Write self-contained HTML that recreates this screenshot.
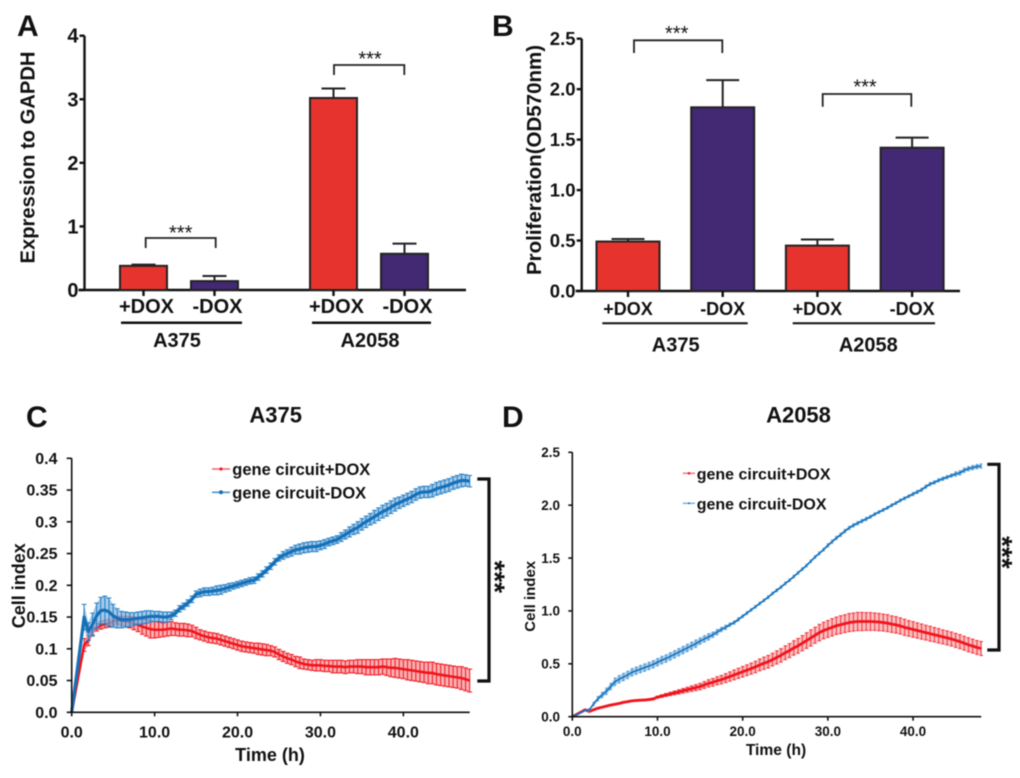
<!DOCTYPE html>
<html lang="en">
<head>
<meta charset="utf-8">
<title>Gene circuit expression, proliferation and cell index</title>
<style>
html,body{margin:0;padding:0;background:#fff;}
body{width:1020px;height:778px;overflow:hidden;}
svg{display:block;filter:blur(.4px);}
text{font-family:"Liberation Sans",Arial,sans-serif;font-weight:bold;fill:#111;}
</style>
</head>
<body>
<svg id="figure" xmlns="http://www.w3.org/2000/svg" width="1020" height="778" viewBox="0 0 1020 778">
  <rect width="1020" height="778" fill="#fff"/>
  <text x="17" y="36" font-size="30">A</text>
  <text x="492" y="36" font-size="30">B</text>
  <text x="26" y="427" font-size="30">C</text>
  <text x="502" y="427" font-size="30">D</text>

  <text transform="translate(34.5,157.5) rotate(-90)" text-anchor="middle" font-size="20.2">Expression to GAPDH</text>
  <text transform="translate(541,160) rotate(-90)" text-anchor="middle" font-size="20.5">Proliferation(OD570nm)</text>

  <g>
    <line x1="121" x2="242" y1="322.7" y2="322.7" stroke="#111" stroke-width="2.5"/>
    <line x1="312" x2="431" y1="322.7" y2="322.7" stroke="#111" stroke-width="2.5"/>
    <text x="177" y="347" text-anchor="middle" font-size="20">A375</text>
    <text x="370" y="347" text-anchor="middle" font-size="20">A2058</text>
    <path d="M145.7 248V238H215.7V248" fill="none" stroke="#222" stroke-width="1.8"/>
    <text x="180.7" y="239.5" text-anchor="middle" font-size="20" style="font-weight:normal">***</text>
    <path d="M334 75V65H404.3V75" fill="none" stroke="#222" stroke-width="1.8"/>
    <text x="370" y="65.5" text-anchor="middle" font-size="20" style="font-weight:normal">***</text>
  </g>

  <g>
    <line x1="602.3" x2="747.7" y1="323.3" y2="323.3" stroke="#111" stroke-width="2"/>
    <line x1="792.7" x2="935" y1="323.3" y2="323.3" stroke="#111" stroke-width="2"/>
    <text x="675.7" y="351.7" text-anchor="middle" font-size="20">A375</text>
    <text x="868.3" y="351.7" text-anchor="middle" font-size="20">A2058</text>
    <path d="M634 53V40.3H722.3V53" fill="none" stroke="#222" stroke-width="1.8"/>
    <text x="676.7" y="40" text-anchor="middle" font-size="20" style="font-weight:normal">***</text>
    <path d="M822.7 106.7V94H911.3V106.7" fill="none" stroke="#222" stroke-width="1.8"/>
    <text x="865" y="93.5" text-anchor="middle" font-size="20" style="font-weight:normal">***</text>
  </g>

  <text x="275.7" y="422.7" text-anchor="middle" font-size="22">A375</text>
  <text x="798.5" y="422.7" text-anchor="middle" font-size="22">A2058</text>
  <text transform="translate(25,585.7) rotate(-90)" text-anchor="middle" font-size="18">Cell index</text>
  <text transform="translate(535,596.3) rotate(-90)" text-anchor="middle" font-size="15">Cell index</text>
  <text x="270" y="761" text-anchor="middle" font-size="18">Time (h)</text>
  <text x="776" y="755" text-anchor="middle" font-size="15.6">Time (h)</text>

  <g id="chart-a"></g>
  <g id="chart-b"></g>
  <g id="chart-c"></g>
  <g id="chart-d"></g>

  <g>
    <g>
      <line x1="212" x2="230" y1="469" y2="469" stroke="#f4656a" stroke-width="1.6"/>
      <circle cx="221" cy="469" r="1.6" fill="#ee1c25"/>
      <text x="232.3" y="475" font-size="16.5">gene circuit+DOX</text>
    </g>
    <g>
      <line x1="212" x2="230" y1="492.3" y2="492.3" stroke="#4a94d0" stroke-width="1.6"/>
      <circle cx="221" cy="492.3" r="2" fill="#1570b8"/>
      <text x="232.3" y="498.3" font-size="16.5">gene circuit-DOX</text>
    </g>
  </g>
  <g>
    <g>
      <line x1="682.7" x2="695" y1="473.3" y2="473.3" stroke="#f4656a" stroke-width="1.3"/>
      <circle cx="689" cy="473.3" r="1.3" fill="#ee1c25"/>
      <text x="696.7" y="479.3" font-size="16">gene circuit+DOX</text>
    </g>
    <g>
      <line x1="682.7" x2="695" y1="503.3" y2="503.3" stroke="#6aa8dc" stroke-width="1.3"/>
      <circle cx="689" cy="503.3" r="1" fill="#1570b8"/>
      <text x="696.7" y="509.3" font-size="16">gene circuit-DOX</text>
    </g>
  </g>

  <g>
    <path d="M477.3 479H489V681H477.3" fill="none" stroke="#111" stroke-width="3.2"/>
    <text transform="translate(485.5,576.7) rotate(90)" text-anchor="middle" font-size="28" style="font-weight:bold">***</text>
  </g>
  <g>
    <path d="M987.3 464.3H999V650H987.3" fill="none" stroke="#111" stroke-width="3.2"/>
    <text transform="translate(993,552.3) rotate(90)" text-anchor="middle" font-size="28" style="font-weight:bold">***</text>
  </g>
</svg>

<script>
// Panel A data
const expressionCategories = ['+DOX', '-DOX', '+DOX', '-DOX'];
const expressionValues = [0.38, 0.14, 3.02, 0.57];
const expressionErrorTops = [0.40, 0.22, 3.17, 0.73];
const expressionTicks = [0, 1, 2, 3, 4];
const expressionTickLabels = ['0', '1', '2', '3', '4'];

// Panel B data
const proliferationCategories = ['+DOX', '-DOX', '+DOX', '-DOX'];
const proliferationValues = [0.49, 1.82, 0.45, 1.42];
const proliferationErrorTops = [0.515, 2.09, 0.51, 1.52];
const proliferationTicks = [0, 0.5, 1, 1.5, 2, 2.5];
const proliferationTickLabels = ['0.0', '0.5', '1.0', '1.5', '2.0', '2.5'];

// Panels C and D shared sampling times (h)
const hours = [
  0,1.5,2,2.5,3,3.5,4,4.5,
  5,5.5,6,6.5,7,7.5,8,8.5,9,9.5,
  10,10.5,11,11.5,12,12.5,13,13.5,14,14.5,
  15,15.5,16,16.5,17,17.5,18,18.5,19,19.5,
  20,20.5,21,21.5,22,22.5,23,23.5,24,24.5,
  25,25.5,26,26.5,27,27.5,28,28.5,29,29.5,
  30,30.5,31,31.5,32,32.5,33,33.5,34,34.5,
  35,35.5,36,36.5,37,37.5,38,38.5,39,39.5,
  40,40.5,41,41.5,42,42.5,43,43.5,44,44.5,
  45,45.5,46,46.5,47,47.5,48];
const timeTicks = [0, 10, 20, 30, 40];
const timeTickLabels = ['0.0', '10.0', '20.0', '30.0', '40.0'];

// Panel C
const cellTicksC = [0, 0.05, 0.1, 0.15, 0.2, 0.25, 0.3, 0.35, 0.4];
const cellTickLabelsC = ['0.0', '0.05', '0.1', '0.15', '0.2', '0.25', '0.3', '0.35', '0.4'];
const a375PlusDox = [
  0,.106,.113,.128,.134,.137,.139,.140,
  .143,.145,.144,.143,.142,.140,.138,.135,.133,.131,
  .130,.130,.130,.131,.132,.131,.130,.130,.129,.128,
  .125,.122,.120,.118,.117,.116,.114,.112,.110,.108,
  .106,.104,.103,.102,.101,.100,.099,.098,.097,.095,
  .091,.088,.085,.083,.080,.078,.076,.075,.074,.074,
  .074,.073,.073,.072,.072,.072,.071,.072,.072,.072,
  .072,.071,.071,.071,.071,.072,.071,.070,.070,.069,
  .068,.067,.066,.065,.064,.063,.062,.062,.060,.059,
  .058,.057,.056,.055,.054,.052,.050];
const a375PlusDoxError = [
  0,.010,.008,.006,.006,.006,.006,.006,
  .006,.006,.007,.008,.009,.010,.011,.012,.013,.014,
  .013,.012,.011,.011,.011,.010,.010,.010,.010,.009,
  .009,.008,.008,.008,.008,.008,.008,.008,.008,.008,
  .008,.008,.008,.008,.008,.009,.009,.009,.008,.008,
  .008,.008,.008,.008,.008,.009,.008,.008,.008,.009,
  .009,.009,.009,.010,.010,.010,.010,.010,.010,.011,
  .011,.012,.012,.012,.012,.012,.013,.014,.015,.015,
  .015,.016,.016,.016,.016,.016,.017,.017,.017,.017,
  .017,.017,.017,.017,.018,.018,.018];
const a375MinusDox = [
  0,.150,.127,.138,.152,.160,.161,.158,
  .152,.148,.146,.146,.146,.147,.148,.149,.150,.151,
  .151,.151,.150,.150,.152,.156,.163,.167,.172,.178,
  .186,.188,.190,.190,.191,.192,.193,.195,.197,.199,
  .201,.203,.205,.207,.208,.213,.218,.224,.230,.237,
  .243,.247,.250,.253,.256,.257,.259,.260,.261,.261,
  .263,.265,.268,.270,.272,.276,.280,.284,.288,.291,
  .296,.300,.304,.308,.312,.316,.319,.323,.327,.330,
  .333,.336,.339,.343,.346,.347,.347,.349,.352,.354,
  .356,.358,.361,.363,.365,.365,.364];
const a375MinusDoxError = [
  0,.020,.014,.018,.020,.021,.022,.022,
  .018,.015,.013,.012,.011,.010,.010,.010,.010,.009,
  .008,.008,.008,.008,.006,.005,.005,.005,.005,.005,
  .005,.006,.006,.006,.006,.007,.007,.006,.006,.005,
  .005,.005,.005,.005,.005,.005,.005,.005,.005,.005,
  .005,.006,.006,.007,.007,.008,.008,.008,.008,.008,
  .007,.007,.006,.006,.006,.007,.007,.008,.008,.009,
  .009,.009,.009,.010,.010,.010,.010,.010,.010,.009,
  .009,.009,.009,.009,.009,.009,.009,.010,.010,.010,
  .010,.010,.010,.010,.010,.009,.009];

// Panel D
const cellTicksD = [0, 0.5, 1, 1.5, 2, 2.5];
const cellTickLabelsD = ['0.0', '0.5', '1.0', '1.5', '2.0', '2.5'];
const a2058PlusDox = [
  0,.065,.050,.065,.080,.090,.100,.110,
  .118,.125,.135,.142,.150,.153,.156,.158,.162,.168,
  .185,.195,.205,.215,.225,.235,.245,.255,.265,.275,
  .285,.300,.315,.325,.340,.350,.365,.380,.395,.410,
  .425,.440,.455,.470,.490,.505,.520,.540,.560,.580,
  .605,.625,.650,.670,.695,.720,.745,.770,.795,.815,
  .830,.845,.860,.870,.880,.890,.895,.900,.900,.900,
  .900,.898,.895,.890,.885,.875,.868,.858,.845,.835,
  .825,.815,.805,.795,.785,.775,.765,.755,.745,.735,
  .722,.710,.695,.680,.668,.655,.645];
const a2058PlusDoxError = [
  0,.005,.005,.005,.005,.005,.005,.006,
  .006,.006,.006,.006,.006,.006,.006,.007,.007,.007,
  .010,.012,.014,.016,.018,.020,.022,.024,.026,.028,
  .030,.032,.034,.036,.038,.040,.042,.044,.046,.048,
  .050,.050,.052,.054,.056,.058,.060,.060,.062,.064,
  .065,.066,.068,.070,.072,.074,.076,.076,.078,.078,
  .080,.082,.082,.084,.084,.086,.086,.086,.086,.084,
  .084,.082,.082,.080,.080,.078,.078,.076,.076,.074,
  .074,.072,.072,.070,.070,.068,.068,.066,.066,.066,
  .066,.066,.066,.066,.066,.066,.066];
const a2058MinusDox = [
  0,.060,.065,.120,.170,.205,.240,.285,
  .330,.355,.375,.395,.420,.435,.450,.465,.480,.495,
  .515,.535,.550,.570,.590,.610,.630,.650,.670,.690,
  .715,.735,.755,.775,.800,.825,.845,.870,.890,.920,
  .950,.980,1.010,1.040,1.070,1.100,1.130,1.165,1.195,1.225,
  1.260,1.290,1.325,1.360,1.395,1.430,1.470,1.510,1.545,1.580,
  1.620,1.655,1.690,1.720,1.755,1.785,1.810,1.830,1.850,1.870,
  1.890,1.915,1.935,1.955,1.975,2.000,2.020,2.045,2.065,2.085,
  2.105,2.125,2.145,2.175,2.200,2.215,2.235,2.250,2.265,2.280,
  2.295,2.305,2.330,2.345,2.355,2.365,2.370];
const a2058MinusDoxError = [
  0,.005,.010,.015,.020,.025,.030,.030,
  .035,.035,.035,.035,.035,.035,.035,.035,.035,.035,
  .035,.035,.035,.035,.035,.035,.035,.035,.035,.035,
  .030,.030,.030,.025,.025,.020,.020,.015,.015,.015,
  .012,.012,.012,.012,.012,.012,.012,.012,.012,.012,
  .012,.012,.012,.012,.012,.012,.012,.012,.012,.012,
  .015,.015,.015,.015,.015,.015,.015,.015,.015,.015,
  .012,.012,.012,.012,.012,.012,.012,.012,.012,.012,
  .015,.015,.015,.015,.015,.015,.015,.015,.015,.015,
  .020,.020,.020,.020,.020,.020,.020];

const SVG_NS = 'http://www.w3.org/2000/svg';

function make(parent, tag, props, name, label) {
  const el = document.createElementNS(SVG_NS, tag);
  for (const key in props) el.setAttribute(key, props[key]);
  
  
  if (label !== undefined) el.textContent = label;
  parent.appendChild(el);
  return el;
}

function linear(d0, d1, r0, r1) {
  return function (v) { return r0 + (v - d0) * (r1 - r0) / (d1 - d0); };
}

function drawYAxis(g, y, axisX, yTop, yBottom, ticks, labels, tickLen, labelRight, fontSize, axisWidth) {
  make(g, 'line', {x1: axisX, x2: axisX, y1: yTop, y2: yBottom, stroke: '#111', 'stroke-width': axisWidth}, 'y-axis-line');
  ticks.forEach(function (t, i) {
    make(g, 'line', {x1: axisX - tickLen, x2: axisX, y1: y(t), y2: y(t), stroke: '#111', 'stroke-width': axisWidth}, 'y-axis-tick');
    make(g, 'text', {x: labelRight, y: y(t) + fontSize * 0.35, 'text-anchor': 'end', 'font-size': fontSize}, 'y-tick-label', labels[i]);
  });
}

function drawBars(g, opts) {
  const y = opts.y;
  drawYAxis(g, y, opts.axisX, y(opts.ticks[opts.ticks.length - 1]), y(0) + 1, opts.ticks, opts.tickLabels, opts.tickLen, opts.labelRight, opts.tickFont, 2.4);
  make(g, 'line', {x1: opts.axisX - 6, x2: opts.xEnd, y1: y(0), y2: y(0), stroke: '#111', 'stroke-width': 2.4}, 'x-axis-line');
  opts.values.forEach(function (v, i) {
    const cx = opts.x(i);
    const fill = i % 2 === 0 ? '#e6332d' : '#432873';
    make(g, 'line', {x1: cx, x2: cx, y1: y(v), y2: y(opts.errors[i]), stroke: '#222', 'stroke-width': 2}, 'error-bar-stem');
    make(g, 'line', {x1: cx - opts.cap / 2, x2: cx + opts.cap / 2, y1: y(opts.errors[i]), y2: y(opts.errors[i]), stroke: '#222', 'stroke-width': 2}, 'error-bar-cap');
    make(g, 'rect', {x: cx - opts.barW / 2, y: y(v), width: opts.barW, height: y(0) - y(v), fill: fill, stroke: '#222', 'stroke-width': 2}, 'bar-' + opts.panel + '-' + i);
    make(g, 'line', {x1: cx, x2: cx, y1: y(0), y2: y(0) + 6, stroke: '#111', 'stroke-width': 2.4}, 'x-axis-tick');
    make(g, 'text', {x: cx + opts.labelShift, y: opts.labelY, 'text-anchor': 'middle', 'font-size': opts.catFont}, 'x-tick-label', opts.categories[i]);
  });
}

function drawSeries(g, x, y, means, errors, style, name) {
  const group = make(g, 'g', {}, name);
  let upper = '';
  let lower = '';
  means.forEach(function (m, i) {
    upper += x(hours[i]).toFixed(2) + ',' + y(m + errors[i]).toFixed(2) + ' ';
    lower = x(hours[i]).toFixed(2) + ',' + y(m - errors[i]).toFixed(2) + ' ' + lower;
  });
  make(group, 'polygon', {points: upper + lower, fill: style.band, 'fill-opacity': style.bandOpacity}, name + '-error-band');
  means.forEach(function (m, i) {
    const px = x(hours[i]);
    const hi = y(m + errors[i]);
    const lo = y(m - errors[i]);
    make(group, 'path', {
      d: 'M' + (px - style.cap) + ' ' + hi + 'H' + (px + style.cap) + 'M' + px + ' ' + hi + 'V' + lo + 'M' + (px - style.cap) + ' ' + lo + 'H' + (px + style.cap),
      stroke: style.err, 'stroke-width': 1, fill: 'none'
    }, name + '-error-bar');
  });
  let pts = '';
  means.forEach(function (m, i) { pts += x(hours[i]).toFixed(2) + ',' + y(m).toFixed(2) + ' '; });
  make(group, 'polyline', {points: pts, fill: 'none', stroke: style.line, 'stroke-width': style.width, 'stroke-linejoin': 'round'}, name + '-line');
}

function drawTimeAxes(g, x, y, opts) {
  drawYAxis(g, y, opts.axisX, y(opts.ticks[opts.ticks.length - 1]), y(0) + 1, opts.ticks, opts.tickLabels, opts.tickLen, opts.labelRight, opts.tickFont, 1.6);
  make(g, 'line', {x1: opts.axisX - 1, x2: x(48), y1: y(0), y2: y(0), stroke: '#111', 'stroke-width': 1.6}, 'x-axis-line');
  timeTicks.forEach(function (t, i) {
    make(g, 'line', {x1: x(t), x2: x(t), y1: y(0), y2: y(0) + 4, stroke: '#111', 'stroke-width': 1.6}, 'x-axis-tick');
    make(g, 'text', {x: x(t), y: opts.labelY, 'text-anchor': 'middle', 'font-size': opts.tickFont}, 'x-tick-label', timeTickLabels[i]);
  });
}

// Panel A
const yA = linear(0, 4, 290, 35.7);
drawBars(document.getElementById('chart-a'), {
  panel: 'a', y: yA, x: function (i) { return 143.5 + 71 * i + (i >= 2 ? 48 : 0); },
  values: expressionValues, errors: expressionErrorTops, categories: expressionCategories,
  ticks: expressionTicks, tickLabels: expressionTickLabels,
  axisX: 84.5, xEnd: 466, tickLen: 5, labelRight: 78.5, tickFont: 20,
  barW: 47, cap: 24, catFont: 20, labelY: 313, labelShift: 3
});

// Panel B
const yB = linear(0, 2.5, 291, 38.7);
drawBars(document.getElementById('chart-b'), {
  panel: 'b', y: yB, x: function (i) { return 628 + 94.7 * i; },
  values: proliferationValues, errors: proliferationErrorTops, categories: proliferationCategories,
  ticks: proliferationTicks, tickLabels: proliferationTickLabels,
  axisX: 581.7, xEnd: 960, tickLen: 5, labelRight: 575.5, tickFont: 18.5,
  barW: 63, cap: 33, catFont: 18, labelY: 315, labelShift: 0
});

// Panel C
const xC = linear(0, 48, 71.7, 469.7);
const yC = linear(0, 0.4, 712.3, 458.3);
const gC = document.getElementById('chart-c');
drawSeries(gC, xC, yC, a375PlusDox, a375PlusDoxError, {band: '#f78f93', bandOpacity: 0.7, err: '#f0141c', line: '#f0141c', width: 2.6, cap: 2.4}, 'a375-plus-dox-series');
drawSeries(gC, xC, yC, a375MinusDox, a375MinusDoxError, {band: '#7fb3df', bandOpacity: 0.7, err: '#1f7cc4', line: '#1570b8', width: 3.2, cap: 2.4}, 'a375-minus-dox-series');
drawTimeAxes(gC, xC, yC, {axisX: 71.7, ticks: cellTicksC, tickLabels: cellTickLabelsC, tickLen: 5, labelRight: 57.5, tickFont: 16, labelY: 737.3});

// Panel D
const xD = linear(0, 48, 572.3, 981.2);
const yD = linear(0, 2.5, 716.7, 452.3);
const gD = document.getElementById('chart-d');
drawSeries(gD, xD, yD, a2058PlusDox, a2058PlusDoxError, {band: '#f8a4a7', bandOpacity: 0.7, err: '#f0343b', line: '#f0141c', width: 2.8, cap: 1.8}, 'a2058-plus-dox-series');
drawSeries(gD, xD, yD, a2058MinusDox, a2058MinusDoxError, {band: '#9cc5e8', bandOpacity: 0.8, err: '#4a97d6', line: '#1570b8', width: 1.6, cap: 1.2}, 'a2058-minus-dox-series');
drawTimeAxes(gD, xD, yD, {axisX: 572.3, ticks: cellTicksD, tickLabels: cellTickLabelsD, tickLen: 4, labelRight: 560, tickFont: 13.5, labelY: 736});
</script>
</body>
</html>
